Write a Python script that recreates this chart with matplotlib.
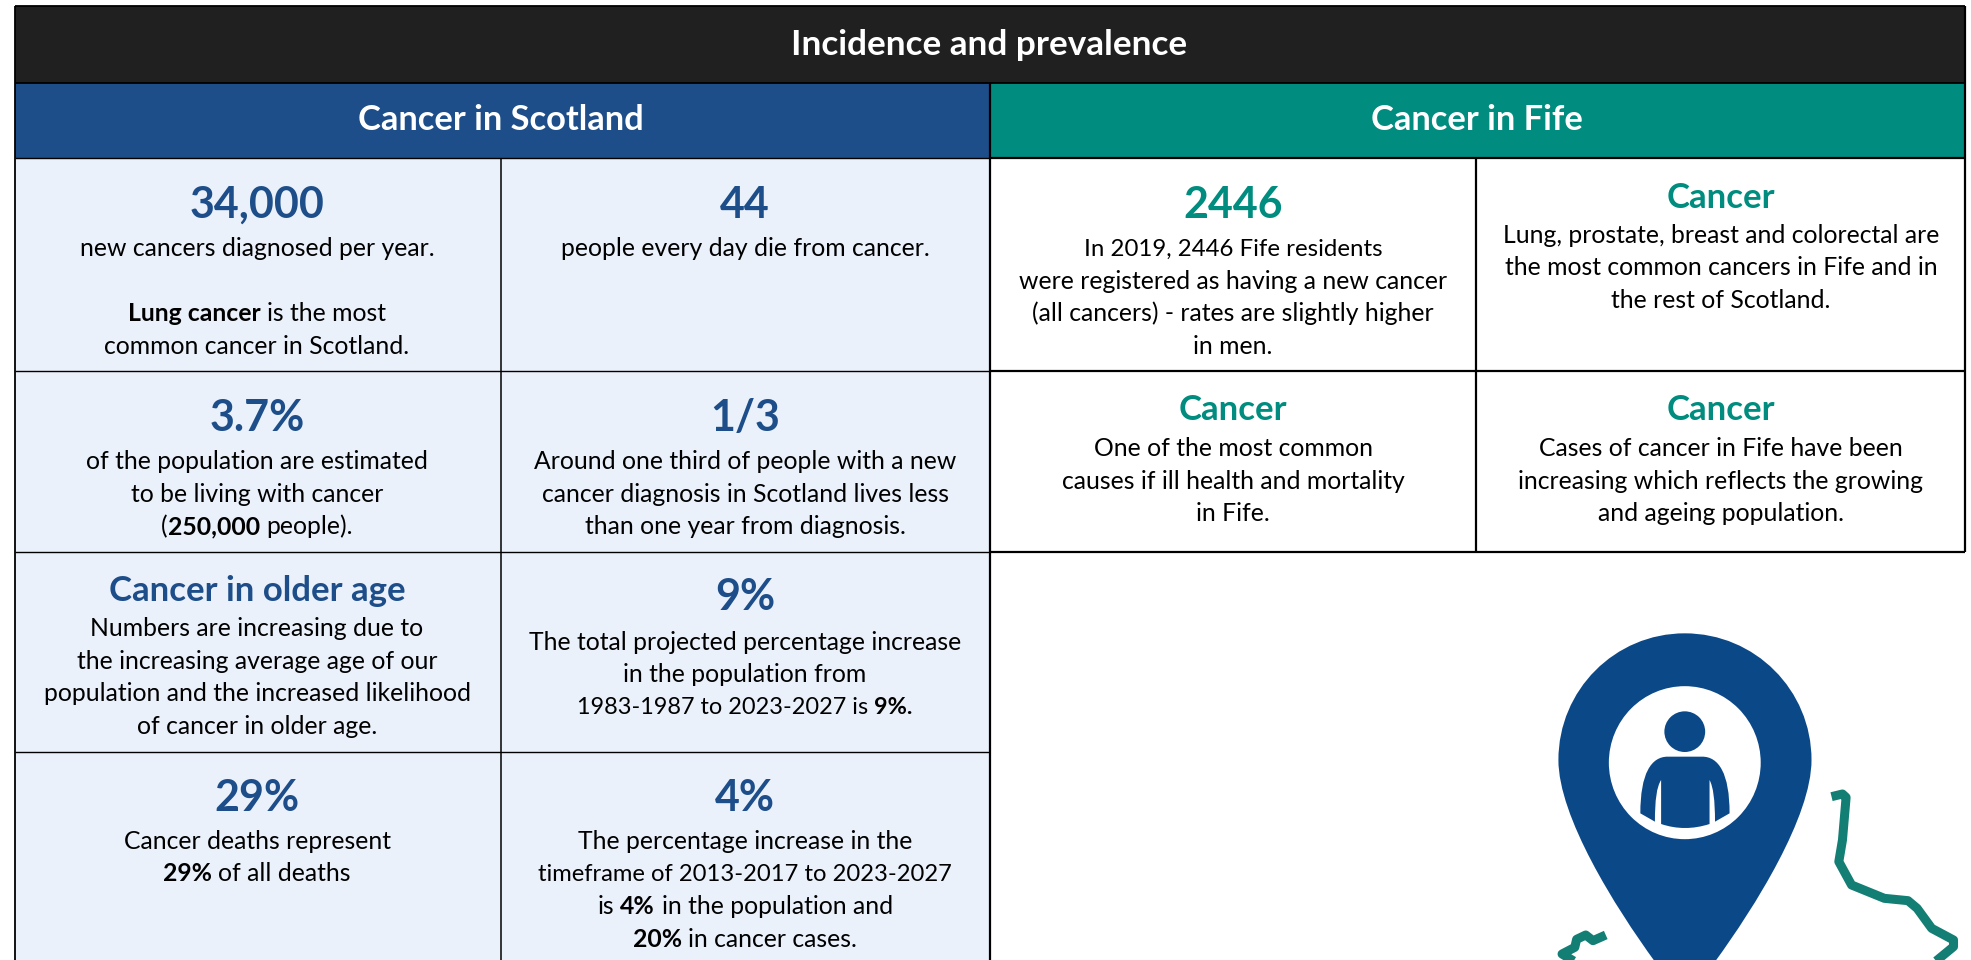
import numpy as np
import matplotlib
matplotlib.use('Agg')
import matplotlib.pyplot as plt
from matplotlib.patches import Rectangle, Ellipse, PathPatch
from matplotlib.path import Path

plt.rcParams['font.family'] = ['Lato', 'DejaVu Sans']

BLACK = '#202020'
BLUE = '#1D4E89'
TEAL = '#008C7E'
PALE = '#EAF1FB'
PIN = '#0B4887'
ROUTE = '#127E74'

title = 'Incidence and prevalence'
left_header = 'Cancer in Scotland'
right_header = 'Cancer in Fife'

# heading, heading baseline, heading size, body baselines, body lines (bold parts marked with **)
scotland_cells = [
    (257, '34,000', 218, 'big', [256, 321, 354],
     ['new cancers diagnosed per year.', '**Lung cancer** is the most', 'common cancer in Scotland.']),
    (745, '44', 218, 'big', [256], ['people every day die from cancer.']),
    (257, '3.7%', 431, 'big', [469, 502, 534],
     ['of the population are estimated', 'to be living with cancer', '(**250,000** people).']),
    (745, '1/3', 431, 'big', [469, 502, 534],
     ['Around one third of people with a new', 'cancer diagnosis in Scotland lives less', 'than one year from diagnosis.']),
    (257, 'Cancer in older age', 601, 'mid', [636, 669, 701, 734],
     ['Numbers are increasing due to', 'the increasing average age of our', 'population and the increased likelihood', 'of cancer in older age.']),
    (745, '9%', 610, 'big', [650, 682, 714],
     ['The total projected percentage increase', 'in the population from', '1983-1987 to 2023-2027 is **9%.**']),
    (257, '29%', 811, 'big', [849, 881], ['Cancer deaths represent', '**29%** of all deaths']),
    (745, '4%', 811, 'big', [849, 881, 914, 947],
     ['The percentage increase in the', 'timeframe of 2013-2017 to 2023-2027', 'is **4%** in the population and', '**20%** in cancer cases.']),
]

fife_cells = [
    (1233, '2446', 218, 'big', [256, 289, 321, 354],
     ['In 2019, 2446 Fife residents', 'were registered as having a new cancer', '(all cancers) - rates are slightly higher', 'in men.']),
    (1721, 'Cancer', 208, 'mid', [243, 275, 308],
     ['Lung, prostate, breast and colorectal are', 'the most common cancers in Fife and in', 'the rest of Scotland.']),
    (1233, 'Cancer', 420, 'mid', [456, 489, 521],
     ['One of the most common', 'causes if ill health and mortality', 'in Fife.']),
    (1721, 'Cancer', 420, 'mid', [456, 489, 521],
     ['Cases of cancer in Fife have been', 'increasing which reflects the growing', 'and ageing population.']),
]

HEAD_SIZE = {'big': 31, 'mid': 25}
BODY_SIZE = 17.8
# lines full of digits run wide in this font
LINE_SIZE = {
    'timeframe of 2013-2017 to 2023-2027': 17.1,
    '1983-1987 to 2023-2027 is **9%.**': 16.9,
    'In 2019, 2446 Fife residents': 17.3,
}

fig = plt.figure(figsize=(19.71, 9.6), dpi=100)
ax = fig.add_axes([0, 0, 1, 1])
ax.set_xlim(0, 1971)
ax.set_ylim(960, 0)
ax.axis('off')

# bands
ax.add_patch(Rectangle((14.5, 6), 1950.5, 77, fc=BLACK, ec='none'))
ax.add_patch(Rectangle((14.5, 83), 975.5, 75, fc=BLUE, ec='none'))
ax.add_patch(Rectangle((990, 83), 975, 75, fc=TEAL, ec='none'))
ax.add_patch(Rectangle((14.5, 158), 975.5, 802, fc=PALE, ec='none'))

# grid lines
ax.hlines([6, 83], 14.5, 1965, color='black', lw=1.3)
ax.hlines(158, 14.5, 990, color='black', lw=1.0)
ax.hlines(158, 990, 1965, color='black', lw=1.6)
ax.hlines([371], 14.5, 990, color='black', lw=1.0)
ax.hlines([371, 552], 990, 1965, color='black', lw=1.6)
ax.hlines([552, 752], 14.5, 990, color='black', lw=1.0)
ax.vlines(14.5, 6, 960, color='black', lw=1.3)
ax.vlines(501, 158, 960, color='black', lw=1.1)
ax.vlines(990, 83, 960, color='black', lw=1.6)
ax.vlines(1476, 158, 552, color='black', lw=1.6)
ax.vlines(1965, 6, 552, color='black', lw=1.6)

ax.text(989, 55, title, color='white', fontsize=25.3, fontweight='bold', ha='center', va='baseline')
ax.text(501, 130, left_header, color='white', fontsize=24.8, fontweight='bold', ha='center', va='baseline')
ax.text(1477, 130, right_header, color='white', fontsize=24.8, fontweight='bold', ha='center', va='baseline')

renderer = fig.canvas.get_renderer()


def width_of(s, weight, size):
    # trailing spaces are not measured, so pad with a dot on each side
    t = ax.text(0, 0, '.' + s + '.', fontsize=size, fontweight=weight)
    w = t.get_window_extent(renderer).width
    t.set_text('..')
    w -= t.get_window_extent(renderer).width
    t.remove()
    return w


def body_line(cx, y, line):
    size = LINE_SIZE.get(line, BODY_SIZE)
    parts = line.split('**')
    widths = [width_of(p, 'bold' if i % 2 else 'normal', size) for i, p in enumerate(parts)]
    x = cx - sum(widths) / 2
    for i, p in enumerate(parts):
        if p.strip():
            lead = len(p) - len(p.lstrip())
            off = width_of(p[:lead], 'normal', size) if lead else 0
            ax.text(x + off, y, p.strip(), fontsize=size, color='black',
                    fontweight='bold' if i % 2 else 'normal', ha='left', va='baseline')
        x += widths[i]


for cells, col in [(scotland_cells, BLUE), (fife_cells, TEAL)]:
    for cx, head, hy, hs, ys, lines in cells:
        ax.text(cx, hy, head, color=col, fontsize=HEAD_SIZE[hs], fontweight='bold', ha='center', va='baseline')
        for y, line in zip(ys, lines):
            body_line(cx, y, line)


def px(pts):
    return [(1400 + a / 2.746, 600 + b / 3) for a, b in pts]


route_right = [(1185, 590), (1215, 582), (1225, 592), (1215, 720), (1205, 785), (1240, 855), (1330, 895),
               (1395, 902), (1420, 925), (1460, 985), (1520, 1020), (1520, 1040), (1470, 1085)]
route_left = [(565, 1005), (530, 1022), (510, 1005), (485, 1018), (480, 1042), (445, 1062), (480, 1085)]
for r in (route_right, route_left):
    xs, ys = zip(*px(r))
    ax.plot(xs, ys, color=ROUTE, lw=6.5, solid_joinstyle='round', solid_capstyle='butt')

pin_pts = px([(782, 100), (590, 100), (435, 270), (435, 480), (435, 650), (590, 920), (700, 1085),
              (865, 1085), (975, 920), (1130, 650), (1130, 480), (1130, 270), (975, 100), (782, 100)])
pin_codes = [Path.MOVETO, Path.CURVE4, Path.CURVE4, Path.CURVE4, Path.CURVE4, Path.CURVE4, Path.CURVE4,
             Path.LINETO, Path.CURVE4, Path.CURVE4, Path.CURVE4, Path.CURVE4, Path.CURVE4, Path.CURVE4]
ax.add_patch(PathPatch(Path(pin_pts, pin_codes), fc=PIN, ec='none', clip_on=True))
cx_pin, cy_pin = px([(782, 488)])[0]
ax.add_patch(Ellipse((cx_pin, cy_pin), 417 / 2.746, 459 / 3, fc='white', ec='none'))
hx, hy = px([(782, 395)])[0]
ax.add_patch(Ellipse((hx, hy), 112 / 2.746, 122 / 3, fc=PIN, ec='none'))

body_pts = px([(660, 640), (660, 520), (690, 470), (735, 470), (830, 470), (875, 470), (905, 520), (905, 640),
               (865, 665), (865, 600), (860, 560), (850, 540), (850, 672), (805, 688), (760, 688), (717, 672),
               (717, 540), (705, 560), (700, 600), (700, 665), (660, 640)])
body_codes = [Path.MOVETO, Path.CURVE4, Path.CURVE4, Path.CURVE4, Path.LINETO, Path.CURVE4, Path.CURVE4, Path.CURVE4,
              Path.LINETO, Path.CURVE4, Path.CURVE4, Path.CURVE4, Path.LINETO, Path.CURVE4, Path.CURVE4, Path.CURVE4,
              Path.LINETO, Path.CURVE4, Path.CURVE4, Path.CURVE4, Path.CLOSEPOLY]
ax.add_patch(PathPatch(Path(body_pts, body_codes), fc=PIN, ec='none'))

fig.savefig('out.png', dpi=100)
